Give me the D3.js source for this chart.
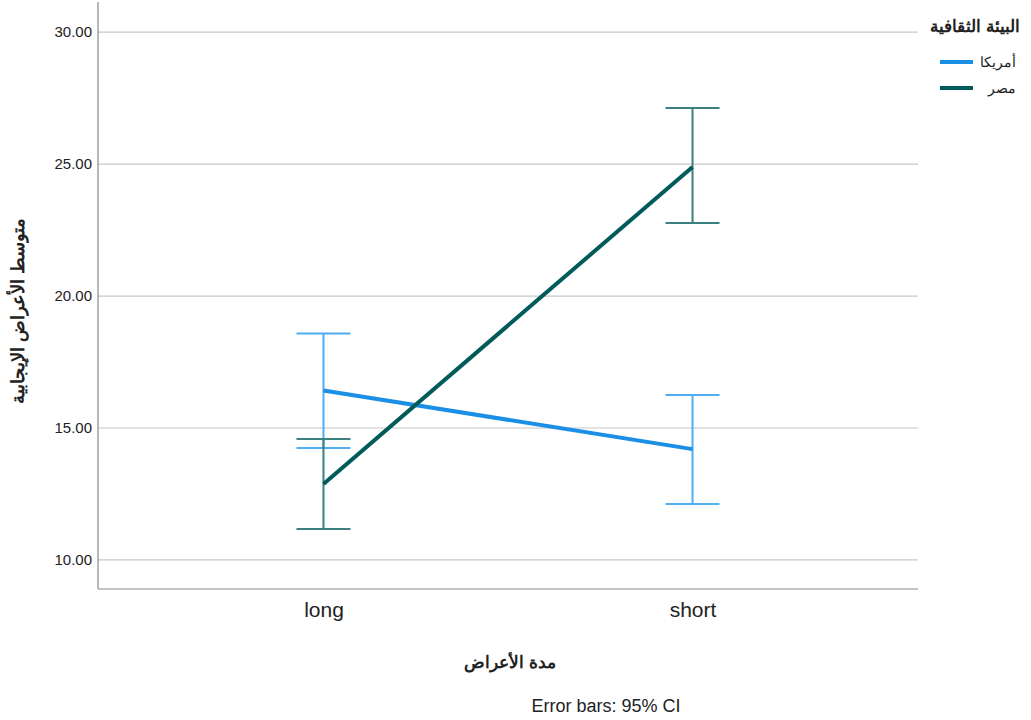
<!DOCTYPE html>
<html>
<head>
<meta charset="utf-8">
<script src="https://cdn.jsdelivr.net/npm/d3@7"></script>
<style>
body { margin: 0; background: #fff; }
text { font-family: Arial, "Liberation Sans", sans-serif; }
</style>
</head>
<body>
<script>
// categories and series
var categories = ["long", "short"];
var seriesNames = ["أمريكا", "مصر"];
var usaMean = [16.42, 14.20];
var usaLow = [14.24, 12.12];
var usaHigh = [18.58, 16.25];
var egyMean = [12.88, 24.89];
var egyLow = [11.17, 22.77];
var egyHigh = [14.58, 27.12];
var yTicks = [10, 15, 20, 25, 30];

var svgWidth = 1031;
var svgHeight = 720;
var plotLeft = 98, plotRight = 918, plotTop = 2, plotBottom = 589;

var svg = d3.select("body").append("svg")
    .attr("width", svgWidth)
    .attr("height", svgHeight);

var xScale = d3.scalePoint()
    .domain(categories)
    .range([plotLeft, plotRight])
    .padding(0.611);
var yScale = d3.scaleLinear()
    .domain([8.9, 31.14])
    .range([plotBottom, plotTop]);

// gridlines
svg.append("g").selectAll("line")
    .data(yTicks)
    .enter().append("line")
    .attr("x1", plotLeft).attr("x2", plotRight)
    .attr("y1", function(d) { return yScale(d); })
    .attr("y2", function(d) { return yScale(d); })
    .attr("stroke", "#c8c8c8")
    .attr("stroke-width", 1.2);

// axes
var y_axis = d3.axisLeft(yScale).tickValues(yTicks).tickFormat(d3.format(".2f")).tickSize(0).tickPadding(6);
var gy = svg.append("g").attr("transform", "translate(" + plotLeft + ",0)").call(y_axis);
gy.select(".domain").remove();
gy.selectAll("text").attr("font-size", 15).attr("fill", "#222");

var x_axis = d3.axisBottom(xScale).tickSize(0).tickPadding(13);
var gx = svg.append("g").attr("transform", "translate(0," + plotBottom + ")").call(x_axis);
gx.select(".domain").remove();
gx.selectAll("text").attr("font-size", 21).attr("fill", "#222");

svg.append("line").attr("x1", plotLeft).attr("x2", plotLeft).attr("y1", plotTop).attr("y2", plotBottom)
    .attr("stroke", "#888").attr("stroke-width", 1.2);
svg.append("line").attr("x1", plotLeft).attr("x2", plotRight).attr("y1", plotBottom).attr("y2", plotBottom)
    .attr("stroke", "#888").attr("stroke-width", 1.2);

var series = [
    { name: seriesNames[0], mean: usaMean, low: usaLow, high: usaHigh, color: "#1b8fe6", err: "#4fadf0" },
    { name: seriesNames[1], mean: egyMean, low: egyLow, high: egyHigh, color: "#025b5b", err: "#3b7f7f" }
];

var line = d3.line()
    .x(function(d, i) { return xScale(categories[i]); })
    .y(function(d) { return yScale(d); });

var capHalf = 27;
series.forEach(function(s) {
    var g = svg.append("g");
    categories.forEach(function(c, i) {
        var x = xScale(c);
        g.append("line").attr("x1", x).attr("x2", x)
            .attr("y1", yScale(s.low[i])).attr("y2", yScale(s.high[i]))
            .attr("stroke", s.err).attr("stroke-width", 2);
        [s.low[i], s.high[i]].forEach(function(v) {
            g.append("line").attr("x1", x - capHalf).attr("x2", x + capHalf)
                .attr("y1", yScale(v)).attr("y2", yScale(v))
                .attr("stroke", s.err).attr("stroke-width", 2);
        });
    });
});
series.forEach(function(s) {
    svg.append("path")
        .datum(s.mean)
        .attr("d", line)
        .attr("fill", "none")
        .attr("stroke", s.color)
        .attr("stroke-width", 4);
});

// axis titles
svg.append("text")
    .attr("x", 510).attr("y", 668)
    .attr("text-anchor", "middle")
    .attr("font-size", 17).attr("font-weight", "bold")
    .attr("fill", "#222")
    .text("مدة الأعراض");
svg.append("text")
    .attr("transform", "translate(24," + 311 + ") rotate(-90)")
    .attr("text-anchor", "middle")
    .attr("font-size", 18).attr("font-weight", "bold")
    .attr("fill", "#222")
    .text("متوسط الأعراض الإيجابية");
svg.append("text")
    .attr("x", 606).attr("y", 712)
    .attr("text-anchor", "middle")
    .attr("font-size", 18)
    .attr("fill", "#222")
    .text("Error bars: 95% CI");

// legend
svg.append("text")
    .attr("x", 1020).attr("y", 32)
    .attr("text-anchor", "end")
    .attr("font-size", 17).attr("font-weight", "bold")
    .attr("fill", "#222")
    .text("البيئة الثقافية");
series.forEach(function(s, i) {
    var y = 62 + i * 26;
    svg.append("line").attr("x1", 940).attr("x2", 973).attr("y1", y).attr("y2", y)
        .attr("stroke", s.color).attr("stroke-width", 4);
    svg.append("text")
        .attr("x", 1016).attr("y", y + 5)
        .attr("text-anchor", "end")
        .attr("font-size", 14)
        .attr("fill", "#222")
        .text(s.name);
});
</script>
</body>
</html>
